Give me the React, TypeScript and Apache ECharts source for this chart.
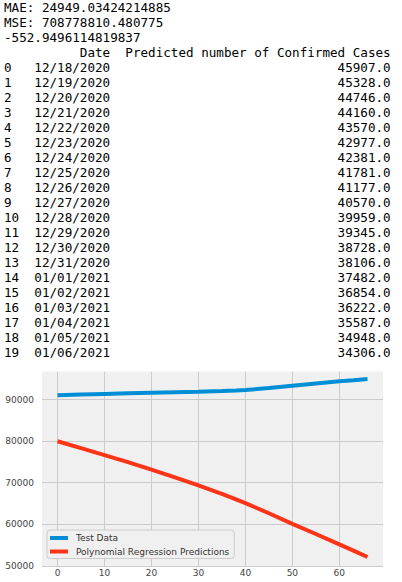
import { useEffect, useRef } from "react";
import * as echarts from "echarts";

// notebook output printed above the chart
const metricLines = [
  "MAE: 24949.03424214885",
  "MSE: 708778810.480775",
  "-552.9496114819837",
];

const dates = [
  "12/18/2020", "12/19/2020", "12/20/2020", "12/21/2020", "12/22/2020",
  "12/23/2020", "12/24/2020", "12/25/2020", "12/26/2020", "12/27/2020",
  "12/28/2020", "12/29/2020", "12/30/2020", "12/31/2020", "01/01/2021",
  "01/02/2021", "01/03/2021", "01/04/2021", "01/05/2021", "01/06/2021",
];

const predictedCases = [
  45907, 45328, 44746, 44160, 43570, 42977, 42381, 41781, 41177, 40570,
  39959, 39345, 38728, 38106, 37482, 36854, 36222, 35587, 34948, 34306,
];

// chart values
const days = [0, 5, 10, 15, 20, 25, 30, 35, 38, 40, 45, 50, 55, 60, 63, 66];
const testData = [
  91100, 91250, 91400, 91550, 91700, 91830, 91950, 92100, 92200, 92320,
  92800, 93350, 93900, 94450, 94700, 94980,
];
const polyPredictions = [
  80000, 78350, 76650, 74950, 73150, 71300, 69350, 67300, 66000, 65100,
  62650, 60100, 57650, 55150, 53650, 52100,
];

const xTicks = [0, 10, 20, 30, 40, 50, 60];
const yTicks = [50000, 60000, 70000, 80000, 90000];

const tableText = (): string => {
  const lines = [...metricLines];
  lines.push("    " + "Date".padStart(10) + "  " + "Predicted number of Confirmed Cases");
  dates.forEach((d, i) => {
    lines.push(
      String(i).padEnd(2) + "  " + d.padStart(10) + "  " +
        predictedCases[i].toFixed(1).padStart(35)
    );
  });
  return lines.join("\n");
};

const RegressionChart = () => {
  const chartRef = useRef<HTMLDivElement>(null);

  useEffect(() => {
    if (!chartRef.current) return;
    const chart = echarts.init(chartRef.current, null, { renderer: "svg" });
    const font = "'DejaVu Sans', sans-serif";

    chart.setOption({
      animation: false,
      backgroundColor: "#ffffff",
      grid: {
        left: 42,
        right: 19,
        top: 13.5,
        bottom: 15,
        show: true,
        backgroundColor: "#f0f0f0",
        borderWidth: 0,
      },
      xAxis: {
        type: "value",
        min: -3.3,
        max: 69.3,
        axisLine: { show: false },
        axisTick: { show: false, customValues: xTicks },
        axisLabel: {
          customValues: xTicks,
          color: "#444",
          fontFamily: font,
          fontSize: 9,
          margin: 1,
        },
        splitLine: { show: true, lineStyle: { color: "#cbcbcb", width: 1 } },
      },
      yAxis: {
        type: "value",
        min: 49700,
        max: 96800,
        axisLine: { show: false },
        axisTick: { show: false, customValues: yTicks },
        axisLabel: {
          customValues: yTicks,
          formatter: (v: number) => String(v),
          color: "#444",
          fontFamily: font,
          fontSize: 9,
          margin: 8,
        },
        splitLine: { show: true, lineStyle: { color: "#cbcbcb", width: 1 } },
      },
      legend: {
        orient: "vertical",
        left: 47,
        top: 172,
        icon: "rect",
        itemWidth: 18,
        itemHeight: 4,
        itemGap: 3.5,
        padding: [3, 5, 2, 3],
        backgroundColor: "#f0f0f0",
        borderColor: "#cccccc",
        borderWidth: 1,
        borderRadius: 3,
        textStyle: {
          fontFamily: font,
          fontSize: 9,
          color: "#333",
          lineHeight: 10,
          padding: [0, 0, 0, 3],
        },
        data: ["Test Data", "Polynomial Regression Predictions"],
      },
      series: [
        {
          name: "Test Data",
          type: "line",
          data: days.map((d, i) => [d, testData[i]]),
          showSymbol: false,
          color: "#008fd5",
          lineStyle: { width: 4, color: "#008fd5" },
        },
        {
          name: "Polynomial Regression Predictions",
          type: "line",
          data: days.map((d, i) => [d, polyPredictions[i]]),
          showSymbol: false,
          color: "#fc3418",
          lineStyle: { width: 4, color: "#fc3418" },
        },
      ],
    });

    return () => {
      chart.dispose();
    };
  }, []);

  return (
    <div
      ref={chartRef}
      style={{ position: "absolute", left: 0, top: 358, width: 402, height: 224 }}
    />
  );
};

export default function App() {
  return (
    <div style={{ position: "absolute", left: 0, top: 0, width: 402, height: 582, background: "#fff" }}>
      <pre
        style={{
          position: "absolute",
          left: 4,
          top: 0,
          margin: 0,
          fontFamily: "'DejaVu Sans Mono', monospace",
          fontSize: 12.6,
          lineHeight: "15px",
          color: "#000",
        }}
      >
        {tableText()}
      </pre>
      <RegressionChart />
    </div>
  );
}
